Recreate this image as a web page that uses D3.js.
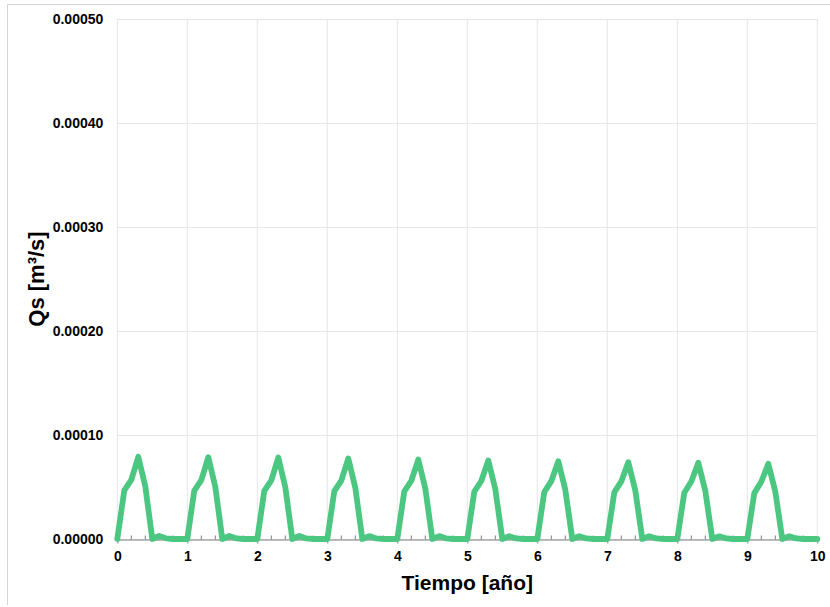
<!DOCTYPE html>
<html>
<head>
<meta charset="utf-8">
<script src="https://cdn.jsdelivr.net/npm/d3@7/dist/d3.min.js"></script>
<style>
  html, body { margin: 0; padding: 0; background: #fff; }
  svg { display: block; font-family: "Liberation Sans", Arial, sans-serif; }
</style>
</head>
<body>
<svg id="chart" width="830" height="607"></svg>
<script>
// ---- data ----
const yearStarts = [0, 1, 2, 3, 4, 5, 6, 7, 8, 9];
const stepOffsets = [0, 0.1, 0.2, 0.3, 0.4, 0.5, 0.6, 0.7, 0.8, 0.9];
const qsYear0 = [0, 0.0000468, 0.0000568, 0.0000790, 0.0000505, 0, 0.0000030, 0.0000006, 0, 0];
const qsYear1 = [0, 0.0000466, 0.0000566, 0.0000787, 0.0000502, 0, 0.0000029, 0.0000006, 0, 0];
const qsYear2 = [0, 0.0000463, 0.0000564, 0.0000783, 0.0000498, 0, 0.0000029, 0.0000005, 0, 0];
const qsYear3 = [0, 0.0000461, 0.0000562, 0.0000775, 0.0000493, 0, 0.0000028, 0.0000005, 0, 0];
const qsYear4 = [0, 0.0000458, 0.0000560, 0.0000764, 0.0000486, 0, 0.0000028, 0.0000005, 0, 0];
const qsYear5 = [0, 0.0000455, 0.0000558, 0.0000756, 0.0000479, 0, 0.0000027, 0.0000005, 0, 0];
const qsYear6 = [0, 0.0000452, 0.0000556, 0.0000748, 0.0000473, 0, 0.0000027, 0.0000005, 0, 0];
const qsYear7 = [0, 0.0000448, 0.0000554, 0.0000738, 0.0000466, 0, 0.0000026, 0.0000005, 0, 0];
const qsYear8 = [0, 0.0000445, 0.0000553, 0.0000733, 0.0000462, 0, 0.0000026, 0.0000005, 0, 0];
const qsYear9 = [0, 0.0000441, 0.0000551, 0.0000724, 0.0000456, 0, 0.0000026, 0.0000005, 0, 0];
const qsEnd = { t: 10, v: 0 };
const xTicks = [0, 1, 2, 3, 4, 5, 6, 7, 8, 9, 10];
const yTicks = [0, 0.0001, 0.0002, 0.0003, 0.0004, 0.0005];
const xTitle = "Tiempo [año]";
const yTitle = "Qs [m³/s]";

// ---- build series ----
const yearly = [qsYear0, qsYear1, qsYear2, qsYear3, qsYear4, qsYear5, qsYear6, qsYear7, qsYear8, qsYear9];
const series = [];
yearly.forEach((vals, i) => {
  vals.forEach((v, j) => series.push({ t: yearStarts[i] + stepOffsets[j], v: v }));
});
series.push(qsEnd);

// ---- layout ----
const svg = d3.select("#chart");
const plotL = 117.3, plotR = 817.3, plotT = 19, plotB = 539;

const x = d3.scaleLinear().domain([0, 10]).range([plotL, plotR]);
const y = d3.scaleLinear().domain([0, 0.0005]).range([plotB, plotT]);

// outer frame (top & left edges visible)
svg.append("line").attr("x1", 7.5).attr("x2", 830).attr("y1", 4.5).attr("y2", 4.5)
  .attr("stroke", "#d4d4d4").attr("stroke-width", 1);
svg.append("line").attr("x1", 7.5).attr("x2", 7.5).attr("y1", 4.5).attr("y2", 605)
  .attr("stroke", "#d4d4d4").attr("stroke-width", 1);

// gridlines
const grid = svg.append("g");
grid.selectAll(".hg").data(yTicks).join("line")
  .attr("x1", plotL).attr("x2", plotR)
  .attr("y1", d => Math.round(y(d)) + 0.5).attr("y2", d => Math.round(y(d)) + 0.5)
  .attr("stroke", "#e6e6e6").attr("stroke-width", 1);
grid.selectAll(".vg").data(xTicks).join("line")
  .attr("x1", d => x(d)).attr("x2", d => x(d))
  .attr("y1", plotT).attr("y2", plotB)
  .attr("stroke", "#e6e6e6").attr("stroke-width", 1);

// x axis
const xAxisG = svg.append("g").attr("transform", `translate(0,${plotB + 0.5})`);
const minorTicks = d3.range(0, 10.001, 0.2).filter(t => Math.abs(t - Math.round(t)) > 1e-6);
xAxisG.selectAll(".minor").data(minorTicks).join("line")
  .attr("x1", d => x(d)).attr("x2", d => x(d)).attr("y1", -4).attr("y2", 0)
  .attr("stroke", "#7f7f7f").attr("stroke-width", 1);
const xAxis = d3.axisBottom(x).tickValues(xTicks).tickFormat(d3.format("d"))
  .tickSizeInner(4).tickSizeOuter(0).tickPadding(6);
xAxisG.call(xAxis);
xAxisG.select(".domain").attr("stroke", "#7f7f7f");
xAxisG.selectAll(".tick line").attr("stroke", "#7f7f7f");
xAxisG.selectAll(".tick text")
  .attr("font-family", "Liberation Sans, Arial, sans-serif")
  .attr("font-size", 14).attr("font-weight", "bold").attr("fill", "#000")
  .attr("dy", "0.8em");

// y axis (labels only)
const yAxisG = svg.append("g").attr("transform", `translate(${plotL},0)`);
const yAxis = d3.axisLeft(y).tickValues(yTicks).tickFormat(d3.format(".5f"))
  .tickSize(0).tickPadding(14);
yAxisG.call(yAxis);
yAxisG.select(".domain").remove();
yAxisG.selectAll(".tick text")
  .attr("font-family", "Liberation Sans, Arial, sans-serif")
  .attr("font-size", 14).attr("font-weight", "bold").attr("fill", "#000");

// series line
const line = d3.line().x(d => x(d.t)).y(d => y(d.v));
svg.append("path").datum(series)
  .attr("d", line)
  .attr("fill", "none")
  .attr("stroke", "#4cc782")
  .attr("stroke-width", 5.8)
  .attr("stroke-linejoin", "round")
  .attr("stroke-linecap", "round");

// titles
svg.append("text")
  .attr("x", (plotL + plotR) / 2).attr("y", 590)
  .attr("text-anchor", "middle")
  .attr("font-size", 21).attr("font-weight", "bold").attr("fill", "#000")
  .text(xTitle);

svg.append("text")
  .attr("transform", `translate(44,${(plotT + plotB) / 2}) rotate(-90)`)
  .attr("text-anchor", "middle")
  .attr("font-size", 22).attr("font-weight", "bold").attr("fill", "#000")
  .text(yTitle);
</script>
</body>
</html>
